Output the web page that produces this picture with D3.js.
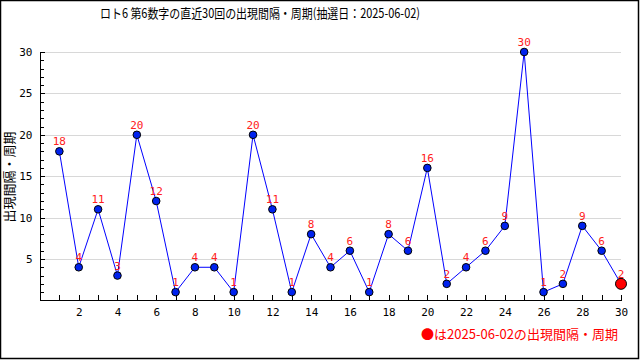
<!DOCTYPE html>
<html><head><meta charset="utf-8">
<script src="https://cdn.jsdelivr.net/npm/d3@7"></script>
<style>body{margin:0;background:#fff}svg{display:block}</style>
</head><body>
<svg id="c" width="640" height="360"></svg>
<script>
const draws = [1,2,3,4,5,6,7,8,9,10,11,12,13,14,15,16,17,18,19,20,21,22,23,24,25,26,27,28,29,30];
const intervals = [18,4,11,3,20,12,1,4,4,1,20,11,1,8,4,6,1,8,6,16,2,4,6,9,30,1,2,9,6,2];
const xTicks = [2,4,6,8,10,12,14,16,18,20,22,24,26,28,30];
const yTicks = [5,10,15,20,25,30];
const titleText = "ロト6 第6数字の直近30回の出現間隔・周期(抽選日：2025-06-02)";
const yLabel = "出現間隔・周期";
const legendText = "●は2025-06-02の出現間隔・周期";

const svg = d3.select("#c");
const font = "'DejaVu Sans Mono','Noto Sans CJK JP',monospace";
const jfont = "'Noto Sans CJK JP','DejaVu Sans',sans-serif";
const x = d3.scaleLinear().domain([0,30]).range([40,621]);
const y = d3.scaleLinear().domain([0,30]).range([300.4,52]);

svg.append("rect").attr("x",0.5).attr("y",0.5).attr("width",638).attr("height",358)
  .attr("fill","#fff").attr("stroke","#000").attr("stroke-width",1.5);

svg.append("text").attr("x",100).attr("y",18).attr("font-family",jfont).attr("font-size",13)
  .attr("textLength",320).attr("lengthAdjust","spacingAndGlyphs").text(titleText);

// gridlines
svg.append("g").selectAll("line").data(yTicks).join("line")
  .attr("x1",40).attr("x2",621).attr("y1",d=>Math.round(y(d))+0.5).attr("y2",d=>Math.round(y(d))+0.5)
  .attr("stroke","#d8d8d8").attr("stroke-width",1);

// y axis
const yAxis = d3.axisLeft(y).tickValues(yTicks).tickSize(0).tickPadding(8);
const gy = svg.append("g").attr("transform","translate(40.5,0)").call(yAxis);
gy.select(".domain").remove();
gy.selectAll("text").attr("font-family",font).attr("font-size",11).attr("fill","#000");
svg.append("g").selectAll("line").data(d3.range(0,31)).join("line")
  .attr("x1",40).attr("x2",d=>d%5===0?45:44).attr("y1",d=>Math.round(y(d))+0.5).attr("y2",d=>Math.round(y(d))+0.5)
  .attr("stroke","#000");
svg.append("line").attr("x1",40.5).attr("x2",40.5).attr("y1",52).attr("y2",301).attr("stroke","#000");

// x axis
const xAxis = d3.axisBottom(x).tickValues(xTicks).tickSize(0).tickPadding(8);
const gx = svg.append("g").attr("transform","translate(0,300.5)").call(xAxis);
gx.select(".domain").remove();
gx.selectAll("text").attr("font-family",font).attr("font-size",11).attr("fill","#000");
svg.append("g").selectAll("line").data(d3.range(1,31)).join("line")
  .attr("x1",d=>Math.round(x(d))+0.5).attr("x2",d=>Math.round(x(d))+0.5).attr("y1",300).attr("y2",295)
  .attr("stroke","#000");
svg.append("line").attr("x1",40).attr("x2",622).attr("y1",300.5).attr("y2",300.5).attr("stroke","#000");

// y label
svg.append("text").attr("transform","translate(14,177) rotate(-90)").attr("text-anchor","middle")
  .attr("font-family",jfont).attr("font-size",13).text(yLabel);

// line
const data = draws.map((d,i)=>({x:d,v:intervals[i]}));
svg.append("path").datum(data).attr("fill","none").attr("stroke","#0000ff").attr("stroke-width",1)
  .attr("d",d3.line().x(d=>x(d.x)).y(d=>y(d.v)));

// labels
svg.append("g").selectAll("text").data(data).join("text")
  .attr("x",d=>x(d.x)).attr("y",d=>y(d.v)-6).attr("text-anchor","middle")
  .attr("font-family",font).attr("font-size",11).attr("fill","#ff2020").text(d=>d.v);

// points
svg.append("g").selectAll("circle").data(data).join("circle")
  .attr("cx",d=>x(d.x)).attr("cy",d=>y(d.v)).attr("r",(d,i)=>i===data.length-1?5.5:3.8)
  .attr("fill",(d,i)=>i===data.length-1?"#ff0000":"#0022ee").attr("stroke","#000").attr("stroke-width",1);

// legend
svg.append("text").attr("x",421).attr("y",339).attr("font-family",jfont).attr("font-size",13)
  .attr("fill","#ff0000").attr("textLength",197).attr("lengthAdjust","spacingAndGlyphs").text(legendText);
</script>
</body></html>
